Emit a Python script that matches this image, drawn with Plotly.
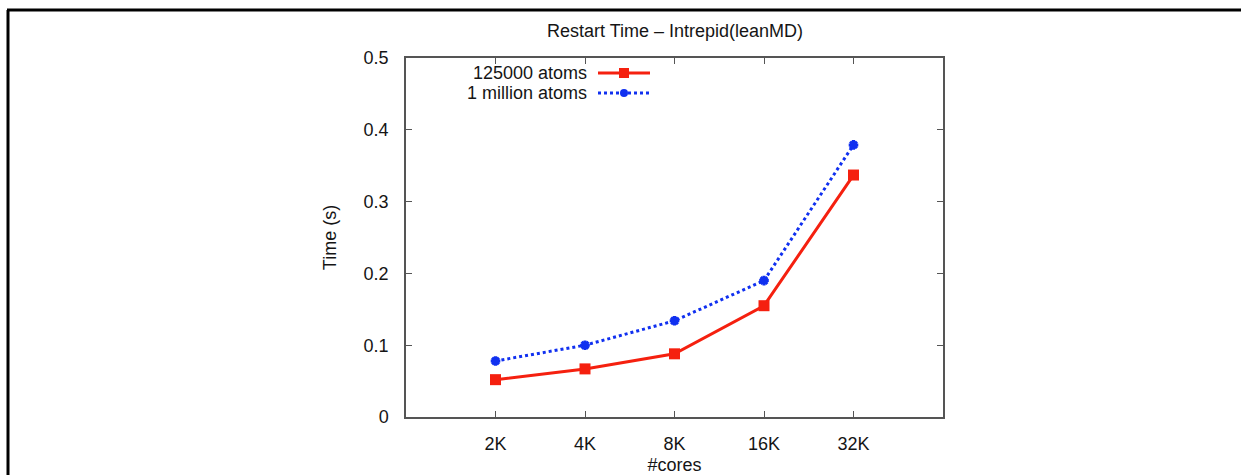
import plotly.graph_objects as go

categories = ["2K", "4K", "8K", "16K", "32K"]
series_names = ["125000 atoms", "1 million atoms"]
atoms_125k = [0.052, 0.067, 0.088, 0.155, 0.337]
atoms_1m = [0.078, 0.100, 0.134, 0.190, 0.379]
y_ticks = [0, 0.1, 0.2, 0.3, 0.4, 0.5]
y_tick_labels = ["0", "0.1", "0.2", "0.3", "0.4", "0.5"]

W, H = 1241, 475
L, R, T, B = 406, 943, 58, 417
pw, ph = R - L, B - T

RED = "#f5200f"
BLUE = "#1030f0"
FONT = "Liberation Sans, Arial, sans-serif"
FS = 18
TXT = "#151515"

xpos = list(range(1, len(categories) + 1))

fig = go.Figure()
fig.add_trace(go.Scatter(
    x=xpos, y=atoms_125k, mode="lines+markers", name=series_names[0],
    line=dict(color=RED, width=3),
    marker=dict(symbol="square", size=11, color=RED),
    showlegend=False))
fig.add_trace(go.Scatter(
    x=xpos, y=atoms_1m, mode="lines+markers", name=series_names[1],
    line=dict(color=BLUE, width=3, dash="dot"),
    marker=dict(symbol="asterisk", size=8, color=BLUE, line=dict(color=BLUE, width=3)),
    showlegend=False))

def px_x(p):
    return (p - L) / pw

def px_y(p):
    return (B - p) / ph

shapes = []
annotations = []
# outer frame (left and top edges)
shapes.append(dict(type="line", xref="paper", yref="paper",
                   x0=px_x(8), x1=px_x(8), y0=px_y(480), y1=px_y(10),
                   line=dict(color="black", width=3)))
shapes.append(dict(type="line", xref="paper", yref="paper",
                   x0=px_x(7), x1=px_x(1250), y0=px_y(10), y1=px_y(10),
                   line=dict(color="black", width=3)))

# manual legend (text left of sample, like gnuplot)
leg_rows = [(73, series_names[0], RED, "solid", "square"), (93, series_names[1], BLUE, "dot", "asterisk")]
for yy, name, col, dash, sym in leg_rows:
    annotations.append(dict(xref="paper", yref="paper", x=px_x(589), y=px_y(yy),
                            text=name, showarrow=False, xanchor="right", yanchor="middle",
                            font=dict(family=FONT, size=FS, color=TXT)))
    shapes.append(dict(type="line", xref="paper", yref="paper",
                       x0=px_x(598), x1=px_x(650), y0=px_y(yy), y1=px_y(yy),
                       line=dict(color=col, width=3, dash=dash)))
    if sym == "square":
        shapes.append(dict(type="rect", xref="paper", yref="paper",
                           x0=px_x(619), x1=px_x(629), y0=px_y(yy - 5), y1=px_y(yy + 5),
                           fillcolor=col, line=dict(width=0)))
    else:
        shapes.append(dict(type="circle", xref="paper", yref="paper",
                           x0=px_x(620), x1=px_x(628), y0=px_y(yy - 4), y1=px_y(yy + 4),
                           fillcolor=col, line=dict(width=0)))

annotations.append(dict(xref="paper", yref="paper", x=0.5, y=px_y(31),
                        text="Restart Time \u2013 Intrepid(leanMD)", showarrow=False,
                        xanchor="center", yanchor="middle",
                        font=dict(family=FONT, size=FS, color=TXT)))

axis_common = dict(showline=True, linecolor="#555", linewidth=1.5, mirror="ticks",
                   ticks="inside", ticklen=6, tickcolor="#555", tickwidth=1,
                   showgrid=False, zeroline=False, automargin=False,
                   tickfont=dict(family=FONT, size=FS, color=TXT))

fig.update_layout(
    width=W, height=H,
    margin=dict(l=L, r=W - R, t=T, b=H - B, pad=0, autoexpand=False),
    paper_bgcolor="white", plot_bgcolor="white",
    xaxis=dict(range=[0, 6], tickvals=xpos, ticktext=categories,
               ticklabelstandoff=10,
               title=dict(text="#cores", font=dict(family=FONT, size=FS, color=TXT), standoff=10),
               **axis_common),
    yaxis=dict(range=[0, 0.5], tickvals=y_ticks, ticktext=y_tick_labels,
               ticklabelstandoff=12,
               title=dict(text="Time (s)", font=dict(family=FONT, size=FS, color=TXT), standoff=22),
               **axis_common),
    shapes=shapes, annotations=annotations,
)

fig.write_html("out.html")
